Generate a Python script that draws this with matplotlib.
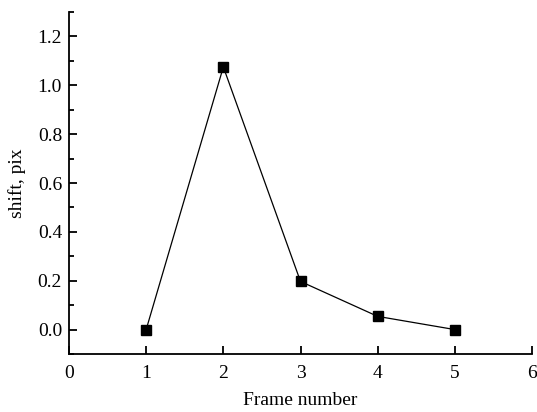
import matplotlib
matplotlib.use("Agg")
import matplotlib.pyplot as plt
from matplotlib.ticker import MultipleLocator

frames = [1, 2, 3, 4, 5]
shift = [0.0, 1.075, 0.197, 0.054, 0.0]

plt.rcParams['font.family'] = ['Liberation Serif']
fig = plt.figure(figsize=(5.37, 4.12), dpi=100)
ax = fig.add_axes([69/537, 58/412, 463/537, 342/412])
ax.plot(frames, shift, color='black', lw=0.9, marker='s', ms=6.5, mfc='black', mec='black')
ax.set_xlim(0, 6)
ax.set_ylim(-0.1, 1.3)
ax.xaxis.set_major_locator(MultipleLocator(1))
ax.yaxis.set_major_locator(MultipleLocator(0.2))
ax.yaxis.set_minor_locator(MultipleLocator(0.1))
ax.yaxis.set_major_formatter(matplotlib.ticker.FormatStrFormatter('%.1f'))
for s in ['top', 'right']:
    ax.spines[s].set_visible(False)
for s in ['left', 'bottom']:
    ax.spines[s].set_linewidth(1.3)
ax.tick_params(which='major', direction='in', length=6, width=1.3, labelsize=14)
ax.tick_params(which='minor', direction='in', length=3.5, width=1.3)
ax.tick_params(axis='x', which='major', pad=8)
ax.tick_params(axis='y', which='major', pad=5)
ax.set_xlabel('Frame number', fontsize=14, labelpad=7)
ax.set_ylabel('shift, pix', fontsize=14, labelpad=8)
fig.savefig('out.png', dpi=100)
